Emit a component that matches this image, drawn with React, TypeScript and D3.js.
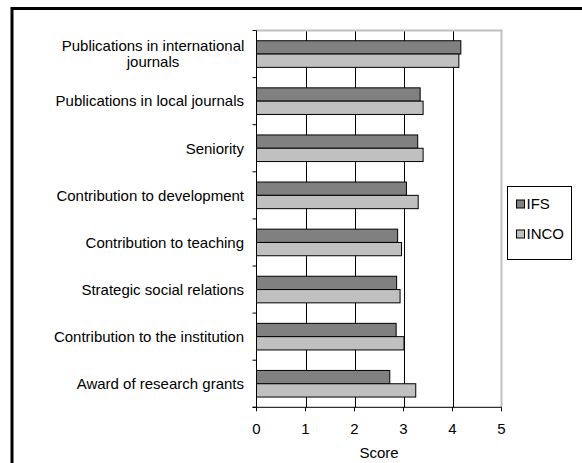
import { useEffect, useRef } from "react";
import * as d3 from "d3";

const categories = [
  "Publications in international journals",
  "Publications in local journals",
  "Seniority",
  "Contribution to development",
  "Contribution to teaching",
  "Strategic social relations",
  "Contribution to the institution",
  "Award of research grants",
];
const ifsScores = [4.17, 3.34, 3.29, 3.06, 2.88, 2.86, 2.85, 2.72];
const incoScores = [4.13, 3.4, 3.4, 3.3, 2.96, 2.93, 3.01, 3.25];
const seriesNames = ["IFS", "INCO"];
const xTicks = [0, 1, 2, 3, 4, 5];

const W = 582;
const H = 463;
const FONT = "'Liberation Sans', Arial, sans-serif";
const FS = 15;
const colors: Record<string, string> = { IFS: "#808080", INCO: "#c0c0c0" };

// labels that Excel wrapped onto two lines
const wrapped: Record<string, string[]> = {
  "Publications in international journals": ["Publications in international", "journals"],
};

export default function App() {
  const svgRef = useRef<SVGSVGElement | null>(null);

  useEffect(() => {
    const svgEl = svgRef.current;
    if (!svgEl) return;
    const svg = d3.select(svgEl);
    svg.selectAll("*").remove();

    const x = d3.scaleLinear().domain([0, 5]).range([256.5, 501.5]);
    const y = d3.scaleBand<string>().domain(categories).range([30.5, 407.3]);
    const inner = d3
      .scaleBand<string>()
      .domain(seriesNames)
      .range([0, y.bandwidth()])
      .paddingOuter(0.77);

    svg.append("rect").attr("width", W).attr("height", H).attr("fill", "#fff");

    // outer frame (runs off the right and bottom edge)
    svg
      .append("rect")
      .attr("x", 12)
      .attr("y", 8.5)
      .attr("width", W + 40)
      .attr("height", H + 40)
      .attr("fill", "none")
      .attr("stroke", "#000")
      .attr("stroke-width", 3);

    const [y0, y1] = y.range();

    // gridlines
    svg
      .append("g")
      .selectAll("line")
      .data(xTicks.slice(1, -1))
      .enter()
      .append("line")
      .attr("x1", (d) => Math.round(x(d)) + 0.5)
      .attr("x2", (d) => Math.round(x(d)) + 0.5)
      .attr("y1", y0)
      .attr("y2", y1)
      .attr("stroke", "#000")
      .attr("stroke-width", 1);

    // plot area border (top and right, gray)
    svg
      .append("path")
      .attr("d", `M${x(0)},${y0}H${x(5)}V${y1}`)
      .attr("fill", "none")
      .attr("stroke", "#c0c0c0")
      .attr("stroke-width", 2);

    // bars
    const rows = categories.map((c, i) => ({ c, values: [ifsScores[i], incoScores[i]] }));
    const rowG = svg
      .append("g")
      .selectAll("g")
      .data(rows)
      .enter()
      .append("g")
      .attr("transform", (d) => `translate(0,${y(d.c)})`);

    rowG
      .selectAll("rect")
      .data((d) => d.values.map((v, j) => ({ name: seriesNames[j], v })))
      .enter()
      .append("rect")
      .attr("x", x(0))
      .attr("y", (d) => inner(d.name) ?? 0)
      .attr("width", (d) => x(d.v) - x(0))
      .attr("height", inner.bandwidth())
      .attr("fill", (d) => colors[d.name])
      .attr("stroke", "#000")
      .attr("stroke-width", 1);

    // left axis
    const axisG = svg.append("g");
    axisG
      .append("line")
      .attr("x1", x(0))
      .attr("x2", x(0))
      .attr("y1", y0)
      .attr("y2", y1)
      .attr("stroke", "#000");
    const boundaries = categories.map((c) => y(c) ?? 0).concat([y1]);
    axisG
      .selectAll("line.yt")
      .data(boundaries)
      .enter()
      .append("line")
      .attr("class", "yt")
      .attr("x1", x(0) - 4)
      .attr("x2", x(0))
      .attr("y1", (d) => d)
      .attr("y2", (d) => d)
      .attr("stroke", "#000");

    // category labels
    axisG
      .selectAll("text.cat")
      .data(categories)
      .enter()
      .append("text")
      .attr("class", "cat")
      .attr("font-family", FONT)
      .attr("font-size", FS)
      .attr("fill", "#000")
      .each(function (c) {
        const t = d3.select(this);
        const cy = (y(c) ?? 0) + y.bandwidth() / 2;
        const lines = wrapped[c];
        if (!lines) {
          t.attr("x", 244).attr("y", cy).attr("dy", "0.35em").attr("text-anchor", "end").text(c);
          return;
        }
        t.attr("text-anchor", "middle");
        const lh = 16;
        lines.forEach((ln, k) => {
          t.append("tspan")
            .attr("x", 153)
            .attr("y", cy + (k - (lines.length - 1) / 2) * lh)
            .attr("dy", "0.35em")
            .text(ln);
        });
      });

    // bottom axis
    const bx = svg.append("g");
    bx.append("line")
      .attr("x1", x(0) - 4)
      .attr("x2", x(5))
      .attr("y1", y1)
      .attr("y2", y1)
      .attr("stroke", "#000");
    bx.selectAll("line.xt")
      .data(xTicks)
      .enter()
      .append("line")
      .attr("class", "xt")
      .attr("x1", (d) => x(d))
      .attr("x2", (d) => x(d))
      .attr("y1", y1)
      .attr("y2", y1 + 4)
      .attr("stroke", "#000");
    bx.selectAll("text")
      .data(xTicks)
      .enter()
      .append("text")
      .attr("x", (d) => x(d))
      .attr("y", 434)
      .attr("text-anchor", "middle")
      .attr("font-family", FONT)
      .attr("font-size", FS)
      .attr("fill", "#000")
      .text((d) => d);
    svg
      .append("text")
      .attr("x", (x(0) + x(5)) / 2)
      .attr("y", 458)
      .attr("text-anchor", "middle")
      .attr("font-family", FONT)
      .attr("font-size", FS)
      .attr("fill", "#000")
      .text("Score");

    // legend
    const lg = svg.append("g");
    lg.append("rect")
      .attr("x", 507.5)
      .attr("y", 186.5)
      .attr("width", 64)
      .attr("height", 73)
      .attr("fill", "#fff")
      .attr("stroke", "#000");
    seriesNames.forEach((name, i) => {
      const cy = 204 + i * 30;
      lg.append("rect")
        .attr("x", 516.5)
        .attr("y", cy - 4)
        .attr("width", 8)
        .attr("height", 8)
        .attr("fill", colors[name])
        .attr("stroke", "#000");
      lg.append("text")
        .attr("x", 526.5)
        .attr("y", cy)
        .attr("dy", "0.35em")
        .attr("font-family", FONT)
        .attr("font-size", FS)
        .attr("fill", "#000")
        .text(name);
    });
  }, []);

  return (
    <svg
      ref={svgRef}
      width={W}
      height={H}
      style={{ position: "absolute", left: 0, top: 0, display: "block" }}
    />
  );
}
